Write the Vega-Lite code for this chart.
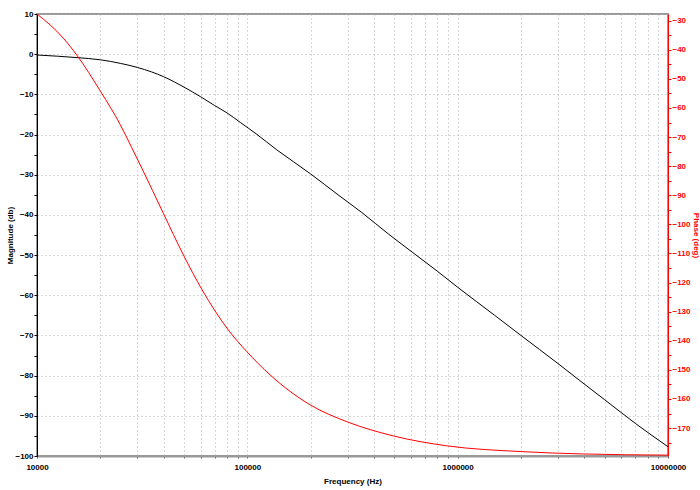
{
  "$schema": "https://vega.github.io/schema/vega-lite/v6.json",
  "autosize": "none",
  "width": 631,
  "height": 442,
  "padding": {"left": 37, "top": 14, "right": 32, "bottom": 34},
  "background": "white",
  "config": {
    "view": {"stroke": "#999999", "strokeWidth": 2},
    "font": "Liberation Sans",
    "axis": {"labelFont": "Liberation Sans", "titleFont": "Liberation Sans", "labelFontWeight": "bold", "titleFontWeight": "bold", "labelFontSize": 8, "titleFontSize": 8}
  },
  "datasets": {
    "mag": [
      {"freq": 10000, "db": -0.2},
      {"freq": 12500, "db": -0.5},
      {"freq": 15500, "db": -0.85},
      {"freq": 20000, "db": -1.4},
      {"freq": 25000, "db": -2.3},
      {"freq": 30000, "db": -3.3},
      {"freq": 35000, "db": -4.4},
      {"freq": 40000, "db": -5.6},
      {"freq": 45000, "db": -6.9},
      {"freq": 50000, "db": -8.2},
      {"freq": 60000, "db": -10.6},
      {"freq": 70000, "db": -12.8},
      {"freq": 80000, "db": -14.6},
      {"freq": 92700, "db": -17.0},
      {"freq": 110000, "db": -19.8},
      {"freq": 138000, "db": -23.8},
      {"freq": 200000, "db": -29.8},
      {"freq": 270000, "db": -35.0},
      {"freq": 350000, "db": -39.4},
      {"freq": 470000, "db": -44.8},
      {"freq": 620000, "db": -49.6},
      {"freq": 800000, "db": -54.0},
      {"freq": 1000000, "db": -58.0},
      {"freq": 1500000, "db": -65.0},
      {"freq": 2000000, "db": -70.0},
      {"freq": 3000000, "db": -77.0},
      {"freq": 3780000, "db": -81.1},
      {"freq": 5000000, "db": -86.0},
      {"freq": 7000000, "db": -91.9},
      {"freq": 10000000, "db": -97.7}
    ],
    "phase": [
      {"freq": 10000, "deg": -27.7},
      {"freq": 13340, "deg": -36.0},
      {"freq": 15450, "deg": -41.8},
      {"freq": 20090, "deg": -54.4},
      {"freq": 24830, "deg": -65.6},
      {"freq": 28200, "deg": -73.6},
      {"freq": 31470, "deg": -80.6},
      {"freq": 39880, "deg": -96.2},
      {"freq": 49660, "deg": -110.5},
      {"freq": 60730, "deg": -122.3},
      {"freq": 81260, "deg": -136.3},
      {"freq": 99340, "deg": -143.7},
      {"freq": 128200, "deg": -151.7},
      {"freq": 198700, "deg": -162.0},
      {"freq": 297000, "deg": -167.8},
      {"freq": 494500, "deg": -172.7},
      {"freq": 887000, "deg": -176.1},
      {"freq": 2018000, "deg": -178.1},
      {"freq": 3960000, "deg": -178.9},
      {"freq": 10000000, "deg": -179.3}
    ]
  },
  "layer": [
    {
      "data": {"name": "mag"},
      "mark": {"type": "line", "color": "#000000", "strokeWidth": 1, "clip": true, "interpolate": "monotone"},
      "encoding": {
        "x": {
          "field": "freq", "type": "quantitative",
          "scale": {"type": "log", "domain": [10000, 10000000], "nice": false},
          "axis": {
            "title": "Frequency (Hz)",
            "values": [10000, 20000, 30000, 40000, 50000, 60000, 70000, 80000, 90000, 100000, 200000, 300000, 400000, 500000, 600000, 700000, 800000, 900000, 1000000, 2000000, 3000000, 4000000, 5000000, 6000000, 7000000, 8000000, 9000000, 10000000],
            "format": "d",
            "labelExpr": "(datum.value == 10000 || datum.value == 100000 || datum.value == 1000000 || datum.value == 10000000) ? datum.label : ''",
            "labelOverlap": false,
            "labelFlush": false,
            "labelPadding": 5,
            "labelColor": "#000000",
            "tickSize": 2,
            "tickColor": "#555555",
            "domainColor": "#999999",
            "domainWidth": 2,
            "grid": true,
            "gridColor": "#b0b0b0",
            "gridDash": [1, 3],
            "gridWidth": 1,
            "titleColor": "#000000",
            "titleY": 25,
            "titleBaseline": "middle"
          }
        },
        "y": {
          "field": "db", "type": "quantitative",
          "scale": {"domain": [-100, 10], "nice": false, "zero": false},
          "axis": {
            "title": "Magnitude (db)",
            "orient": "left",
            "values": [-100, -95, -90, -85, -80, -75, -70, -65, -60, -55, -50, -45, -40, -35, -30, -25, -20, -15, -10, -5, 0, 5, 10],
            "labelExpr": "datum.value % 10 === 0 ? datum.label : ''",
            "labelOverlap": false,
            "labelPadding": 1,
            "labelColor": "#000000",
            "tickSize": 3,
            "tickColor": "#000000",
            "domainColor": "#000000",
            "grid": true,
            "gridColor": "#b0b0b0",
            "gridDash": [1, 3],
            "gridOpacity": {"condition": {"test": "datum.value % 10 === 0", "value": 1}, "value": 0},
            "titleColor": "#000000",
            "titleX": -27,
            "titleBaseline": "middle"
          }
        }
      }
    },
    {
      "data": {"name": "phase"},
      "mark": {"type": "line", "color": "#ff0000", "strokeWidth": 1, "clip": true, "interpolate": "monotone"},
      "encoding": {
        "x": {"field": "freq", "type": "quantitative"},
        "y": {
          "field": "deg", "type": "quantitative",
          "scale": {"domain": [-179.6, -27.7], "nice": false, "zero": false},
          "axis": {
            "title": "Phase (deg)",
            "orient": "right",
            "values": [-175, -170, -165, -160, -155, -150, -145, -140, -135, -130, -125, -120, -115, -110, -105, -100, -95, -90, -85, -80, -75, -70, -65, -60, -55, -50, -45, -40, -35, -30],
            "labelExpr": "datum.value % 10 === 0 ? datum.label : ''",
            "labelOverlap": false,
            "labelPadding": 1,
            "labelColor": "#ff0000",
            "tickSize": 3,
            "tickColor": "#ff0000",
            "domainColor": "#ff0000",
            "grid": false,
            "titleColor": "#ff0000",
            "titleX": 27,
            "titleBaseline": "middle"
          }
        }
      }
    }
  ],
  "resolve": {"scale": {"y": "independent"}, "axis": {"y": "independent"}}
}
